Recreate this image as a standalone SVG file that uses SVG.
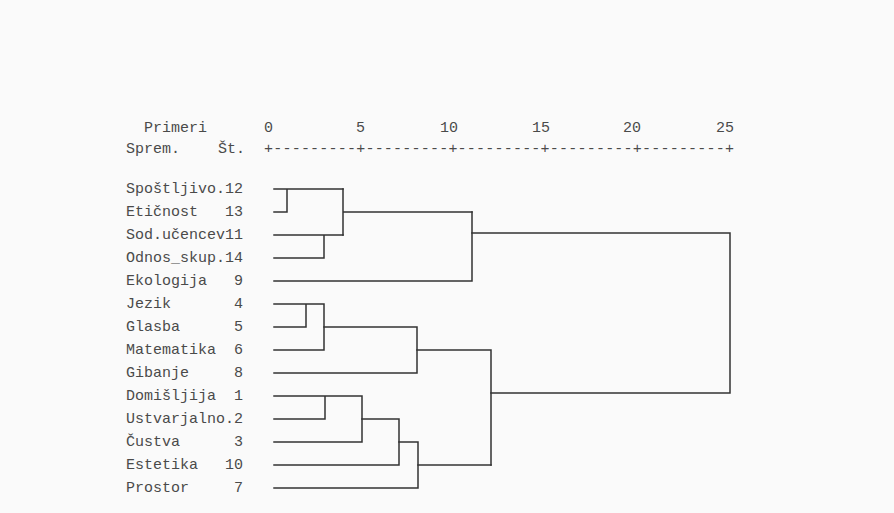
<svg xmlns="http://www.w3.org/2000/svg" width="894" height="513" viewBox="0 0 894 513">
<style>
  .t { font-family: "Liberation Mono", "Courier New", monospace; font-size: 15px; fill: #4a4a4a; white-space: pre; }
  .c { fill: none; stroke: #333; stroke-width: 1.5; stroke-linecap: square; }
</style>
<rect x="0" y="0" width="894" height="513" fill="#fafafa"/>
<g id="axis">
  <text class="t" x="144" y="132">Primeri</text>
  <text class="t" x="264" y="132">0</text>
  <text class="t" x="356" y="132">5</text>
  <text class="t" x="440" y="132">10</text>
  <text class="t" x="532" y="132">15</text>
  <text class="t" x="623" y="132">20</text>
  <text class="t" x="716" y="132">25</text>
  <text class="t" x="126" y="153">Sprem.</text>
  <text class="t" x="218" y="153">Št.</text>
  <text class="t" x="264" y="153" textLength="470" lengthAdjust="spacing">+---------+---------+---------+---------+---------+</text>
</g>
<g id="n12"><text class="t" x="126" y="193">Spoštljivo.12</text></g>
<g id="n13"><text class="t" x="126" y="216">Etičnost   13</text></g>
<g id="n11"><text class="t" x="126" y="239">Sod.učencev11</text></g>
<g id="n14"><text class="t" x="126" y="262">Odnos_skup.14</text></g>
<g id="n9"><text class="t" x="126" y="285">Ekologija   9</text></g>
<g id="n4"><text class="t" x="126" y="308">Jezik       4</text></g>
<g id="n5"><text class="t" x="126" y="331">Glasba      5</text></g>
<g id="n6"><text class="t" x="126" y="354">Matematika  6</text></g>
<g id="n8"><text class="t" x="126" y="377">Gibanje     8</text></g>
<g id="n1"><text class="t" x="126" y="400">Domišljija  1</text></g>
<g id="n2"><text class="t" x="126" y="423">Ustvarjalno.2</text></g>
<g id="n3"><text class="t" x="126" y="446">Čustva      3</text></g>
<g id="n10"><text class="t" x="126" y="469">Estetika   10</text></g>
<g id="n7"><text class="t" x="126" y="492">Prostor     7</text></g>
<g id="connectors" class="c">
  <path class="c" d="M274 189 H343 M274 212 H287 V189"/>
  <path class="c" d="M274 235 H343 M274 258 H324 V235"/>
  <path class="c" d="M343 189 V235 M343 212 H472"/>
  <path class="c" d="M274 281 H472 V212"/>
  <path class="c" d="M472 233 H730 V393 H491"/>
  <path class="c" d="M274 304 H324 V350 M274 327 H306 V304 M274 350 H324"/>
  <path class="c" d="M324 327 H417 M274 373 H417 V327"/>
  <path class="c" d="M417 350 H491 V465"/>
  <path class="c" d="M274 396 H362 V442 M274 419 H325 V396 M274 442 H362"/>
  <path class="c" d="M362 419 H399 M274 465 H399 V419"/>
  <path class="c" d="M399 442 H418 M274 488 H418 V442"/>
  <path class="c" d="M418 465 H491"/>
</g>
</svg>
